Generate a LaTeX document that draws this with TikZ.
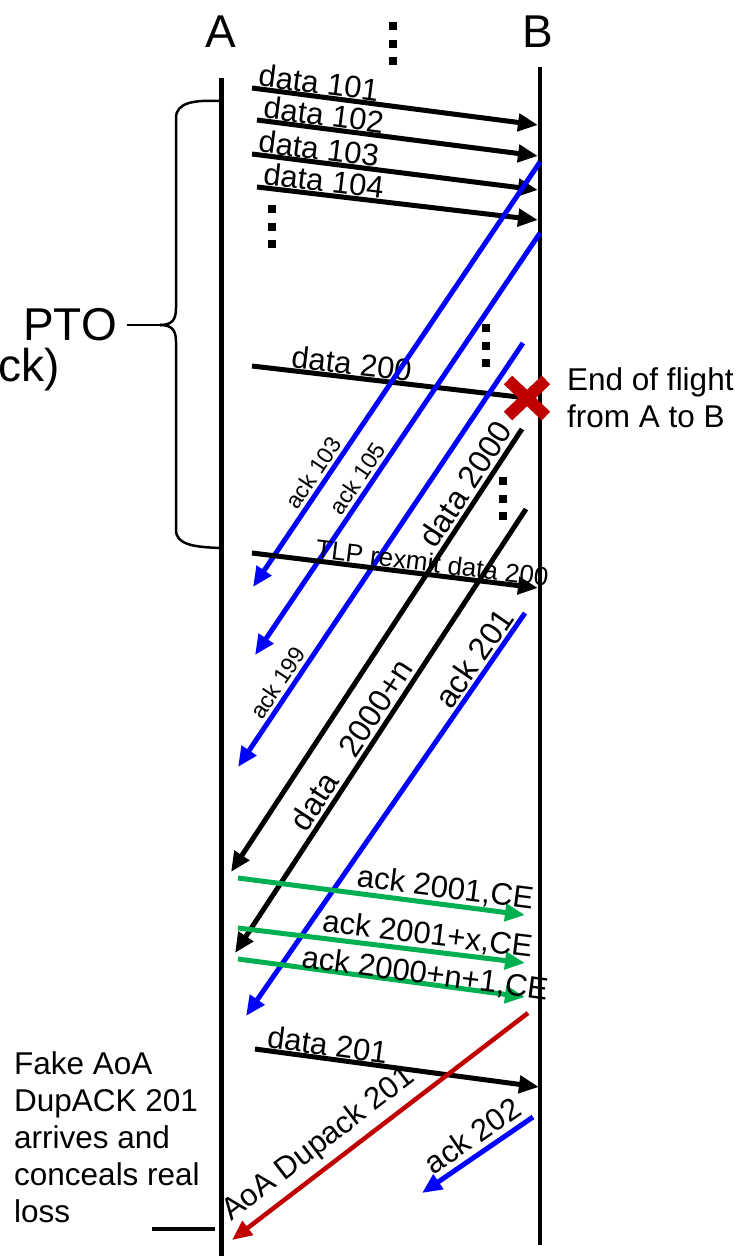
\documentclass[tikz,border=0pt]{standalone}
\usepackage{fontspec}
\setmainfont{Liberation Sans}
\usetikzlibrary{arrows.meta,calc}
\definecolor{ackblue}{RGB}{0,0,255}
\definecolor{cegreen}{RGB}{0,176,80}
\definecolor{lossred}{RGB}{192,0,0}
\tikzset{
    life/.style={line width=5pt},
    msg/.style={line width=5pt, -{Triangle[length=20pt,width=17pt]}},
    datamsg/.style={msg, draw=black},
    ackmsg/.style={msg, draw=ackblue},
    cemsg/.style={msg, draw=cegreen},
    dupmsg/.style={msg, line width=4.5pt, draw=lossred},
    lossx/.style={draw=lossred, line width=12pt},
    lbl/.style={font=\fontsize{31}{35}\selectfont, sloped, inner sep=0pt},
    biglbl/.style={font=\fontsize{32}{36}\selectfont, sloped, above, inner sep=3pt},
    smalllbl/.style={font=\fontsize{23}{27}\selectfont, sloped, above, inner sep=3pt},
    txt/.style={font=\fontsize{31.5}{37}\selectfont, align=left, inner sep=0pt},
    head/.style={font=\fontsize{46}{50}\selectfont, inner sep=0pt}
}
\begin{document}
\begin{tikzpicture}[x=1pt,y=-1pt]
\useasboundingbox (0,0) rectangle (746,1256);
% hosts and lifelines
\node[head] (A) at (221,32) {A};
\node[head] (B) at (538,32) {B};
\coordinate (Atop) at (221,78);
\coordinate (Abot) at (221,1256);
\coordinate (Btop) at (540,67);
\coordinate (Bbot) at (540,1245);
\draw[life] (Atop) -- (Abot);
\draw[life, line width=4pt] (Btop) -- (Bbot);
% dots
\foreach \x/\y in {393/26,272/209,486/328,503/481}
    \foreach \k in {0,1,2}
        \fill (\x-4,\y+17.5*\k-4) rectangle +(8,8);
% PTO brace
\node[head, anchor=east] (pto) at (117,325) {PTO};
\node[head, anchor=west] (nack) at (-2,370) {ck)};
\coordinate (brtip) at (160,325);
\draw[line width=2.5pt] (pto.east) ++(10,0) -- (brtip);
\draw[line width=2.5pt] (220,101) .. controls (195,100) and (176,102) .. (176,118) -- (176,308) .. controls (176,320) and (172,325) .. (brtip);
\draw[line width=2.5pt] (brtip) .. controls (172,325) and (176,330) .. (176,342) -- (176,530) .. controls (176,545) and (195,547) .. (220,548);
% first flight
\foreach \n/\xa/\ya/\yb in {101/252/88/125,102/257/120/156,103/252/154/190,104/257/187/220}{
    \coordinate (d\n s) at (\xa,\ya);
    \coordinate (d\n e) at (538,\yb);
    \draw[datamsg] (d\n s) -- node[lbl, pos=0.01, anchor=south west] {data \n} (d\n e);
}
% lost packet
\coordinate (d200s) at (252,366);
\coordinate (lost) at (527,398);
\draw[line width=5pt] (d200s) -- node[lbl, pos=0.13, anchor=south west] {data 200} (lost);
\draw[lossx] (lost) +(-19,-18) -- +(19,18) (lost) +(-19,18) -- +(19,-18);
\node[txt, anchor=west] (eof) at (567,398) {End of flight\\from A to B};
% acks of first flight
\foreach \n/\xs/\ys/\xe/\ye/\p in {103/540/162/253/587/0.75,105/540/233/255/655/0.60,199/523/343/238/767/0.82}{
    \coordinate (a\n s) at (\xs,\ys);
    \coordinate (a\n e) at (\xe,\ye);
    \draw[ackmsg] (a\n s) -- node[smalllbl, pos=\p] {ack \n} (a\n e);
}
% tail loss probe
\coordinate (tlps) at (252,553);
\coordinate (tlpe) at (538,588);
\draw[datamsg] (tlps) -- node[lbl, font=\fontsize{26}{30}\selectfont, pos=0.21, anchor=south west] {TLP rexmit data 200} (tlpe);
\coordinate (a201s) at (525,613);
\coordinate (a201e) at (246,1016);
\draw[ackmsg] (a201s) -- node[biglbl, pos=0.135, inner sep=2pt] {ack 201} (a201e);
% data from B
\coordinate (d2000s) at (522,429);
\coordinate (d2000e) at (231,872);
\draw[datamsg] (d2000s) -- node[biglbl, pos=0.146] {data 2000} (d2000e);
\coordinate (d2000ns) at (526,509);
\coordinate (d2000ne) at (235,953);
\draw[datamsg] (d2000ns) -- node[biglbl, pos=0.553] {data\hspace{18pt} 2000+n} (d2000ne);
% CE marked acks
\coordinate (ce1s) at (238,878);
\coordinate (ce1e) at (525,915);
\draw[cemsg] (ce1s) -- node[lbl, pos=0.40, anchor=south west] {ack 2001,CE} (ce1e);
\coordinate (ce2s) at (238,928);
\coordinate (ce2e) at (525,963);
\draw[cemsg] (ce2s) -- node[lbl, pos=0.28, anchor=south west] {ack 2001+x,CE} (ce2e);
\coordinate (ce3s) at (238,959);
\coordinate (ce3e) at (525,997);
\draw[cemsg] (ce3s) -- node[lbl, pos=0.21, anchor=base west] {ack 2000+n+1,CE} (ce3e);
% new data and fake dupack
\coordinate (d201s) at (255,1049);
\coordinate (d201e) at (539,1087);
\draw[datamsg] (d201s) -- node[lbl, pos=0.03, anchor=south west] {data 201} (d201e);
\coordinate (dups) at (528,1013);
\coordinate (dupe) at (232,1240);
\draw[dupmsg] (dups) -- node[biglbl, font=\fontsize{31}{35}\selectfont, pos=0.66, inner sep=6pt] {AoA Dupack 201} (dupe);
\coordinate (a202s) at (533,1117);
\coordinate (a202e) at (422,1193);
\draw[ackmsg] (a202s) -- node[biglbl, font=\fontsize{31}{35}\selectfont, pos=0.45, inner sep=5pt] {ack 202} (a202e);
% note
\node[txt, anchor=north west] (fake) at (14,1051) {Fake AoA\\DupACK 201\\arrives and\\conceals real\\loss};
\coordinate (notel) at (152,1229);
\coordinate (noter) at (215,1229);
\draw[line width=3.5pt] (notel) -- (noter);
\end{tikzpicture}
\end{document}
